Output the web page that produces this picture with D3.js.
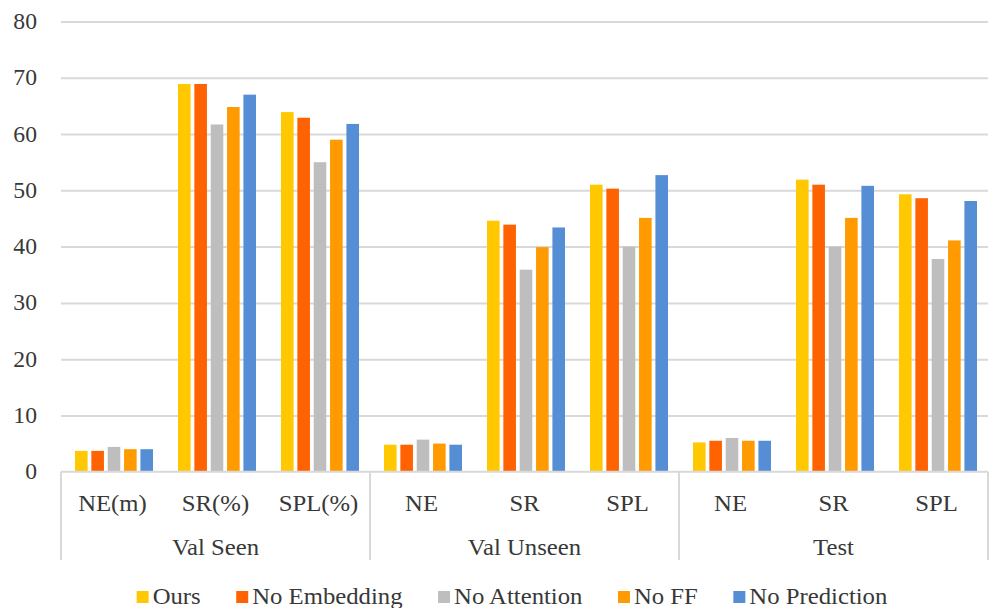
<!DOCTYPE html>
<html>
<head>
<meta charset="utf-8">
<script src="https://cdn.jsdelivr.net/npm/d3@7"></script>
<style>
  html, body { margin: 0; padding: 0; background: #fff; }
  svg { display: block; font-family: "Liberation Serif", "Times New Roman", serif; }
</style>
</head>
<body>
<svg id="chart" width="990" height="608"></svg>
<script>
// Ablation results: three splits, three metrics each
const groups = ["Val Seen", "Val Unseen", "Test"];
const metrics = [
  ["NE(m)", "SR(%)", "SPL(%)"],
  ["NE", "SR", "SPL"],
  ["NE", "SR", "SPL"]
];
const seriesNames = ["Ours", "No Embedding", "No Attention", "No FF", "No Prediction"];
const seriesColors = ["#FFC800", "#FF6200", "#BEBEBE", "#FF9A00", "#558ED5"];

// values per series, in category order (Val Seen NE/SR/SPL, Val Unseen NE/SR/SPL, Test NE/SR/SPL)
const ours         = [3.7, 68.9, 63.9, 4.8, 44.6, 51.0, 5.2, 51.9, 49.3];
const noEmbedding  = [3.7, 68.9, 62.9, 4.8, 43.9, 50.3, 5.5, 51.0, 48.6];
const noAttention  = [4.4, 61.7, 55.0, 5.7, 35.9, 40.0, 6.0, 40.0, 37.8];
const noFF         = [4.0, 64.8, 59.0, 5.0, 39.9, 45.1, 5.5, 45.1, 41.1];
const noPrediction = [4.0, 67.0, 61.8, 4.8, 43.4, 52.7, 5.5, 50.8, 48.1];
const yTicks = [0, 10, 20, 30, 40, 50, 60, 70, 80];

const series = [ours, noEmbedding, noAttention, noFF, noPrediction];

const svg = d3.select("#chart");
const plotLeft = 61, plotRight = 988, plotTop = 21.5, plotBottom = 471.7;
const textColor = "#383838";
const gridColor = "#D9D9D9";
const fontSize = 24;
const stretch = 1.03;

// flat list of category ids
const cats = [];
groups.forEach((g, gi) => metrics[gi].forEach((m, mi) => cats.push({ id: gi + "-" + mi, group: g, gi, label: m })));

const x0 = d3.scaleBand().domain(cats.map(c => c.id)).range([plotLeft, plotRight]).paddingInner(0).paddingOuter(0);
const y = d3.scaleLinear().domain([0, 80]).range([plotBottom, plotTop]);
const x1 = d3.scaleBand().domain(seriesNames).range([0, 78]).paddingInner(0.23).paddingOuter(0);
const clusterOffset = (x0.bandwidth() - 78) / 2 + 1.5;

// slightly widened text helper
function stretchedText(sel, xp, yp, str, anchor, size) {
  return sel.append("text")
    .attr("transform", `translate(${xp},${yp}) scale(${stretch},1)`)
    .attr("text-anchor", anchor)
    .attr("font-size", size || fontSize)
    .attr("fill", textColor)
    .text(str);
}

// gridlines via axis
const yAxis = d3.axisLeft(y).tickValues(yTicks).tickSize(-(plotRight - plotLeft)).tickFormat("");
const ga = svg.append("g").attr("transform", `translate(${plotLeft},0)`).call(yAxis);
ga.select(".domain").remove();
ga.selectAll(".tick line").attr("stroke", gridColor).attr("stroke-width", 2);
ga.selectAll(".tick").filter(d => d === 0).remove();

// y tick labels
const labelsG = svg.append("g");
yTicks.forEach(t => stretchedText(labelsG, 37, y(t) + 7.5, String(t), "end", 23));

// bars
const barsG = svg.append("g");
series.forEach((vals, si) => {
  barsG.selectAll(null)
    .data(cats.map((c, ci) => ({ c, v: vals[ci] })))
    .join("rect")
    .attr("x", d => x0(d.c.id) + clusterOffset + x1(seriesNames[si]))
    .attr("y", d => y(d.v))
    .attr("width", x1.bandwidth())
    .attr("height", d => y(0) - y(d.v))
    .attr("fill", seriesColors[si]);
});

// category axis
const axisG = svg.append("g");
axisG.append("line")
  .attr("x1", plotLeft).attr("x2", plotRight).attr("y1", y(0)).attr("y2", y(0))
  .attr("stroke", gridColor).attr("stroke-width", 2);

const groupEdges = [plotLeft];
groups.forEach((g, gi) => {
  const ids = cats.filter(c => c.gi === gi).map(c => c.id);
  groupEdges.push(x0(ids[ids.length - 1]) + x0.bandwidth());
});
groupEdges.forEach(xe => {
  axisG.append("line")
    .attr("x1", xe).attr("x2", xe).attr("y1", y(0)).attr("y2", 560)
    .attr("stroke", gridColor).attr("stroke-width", 2);
});

cats.forEach(c => stretchedText(axisG, x0(c.id) + x0.bandwidth() / 2, 511, c.label, "middle"));
groups.forEach((g, gi) => {
  stretchedText(axisG, (groupEdges[gi] + groupEdges[gi + 1]) / 2, 555, g, "middle");
});

// legend
const legendG = svg.append("g");
const sw = 12, textGap = 4, itemGap = 35.5;
const items = seriesNames.map((name, i) => {
  const g = legendG.append("g");
  g.append("rect").attr("width", sw).attr("height", sw).attr("y", -13).attr("fill", seriesColors[i]);
  const t = stretchedText(g, sw + textGap, 0, name, "start");
  const w = sw + textGap + t.node().getComputedTextLength() * stretch;
  return { g, w };
});
const totalW = d3.sum(items, d => d.w) + itemGap * (items.length - 1);
let cx = 512 - totalW / 2;
items.forEach(it => {
  it.g.attr("transform", `translate(${cx},604)`);
  cx += it.w + itemGap;
});
</script>
</body>
</html>
